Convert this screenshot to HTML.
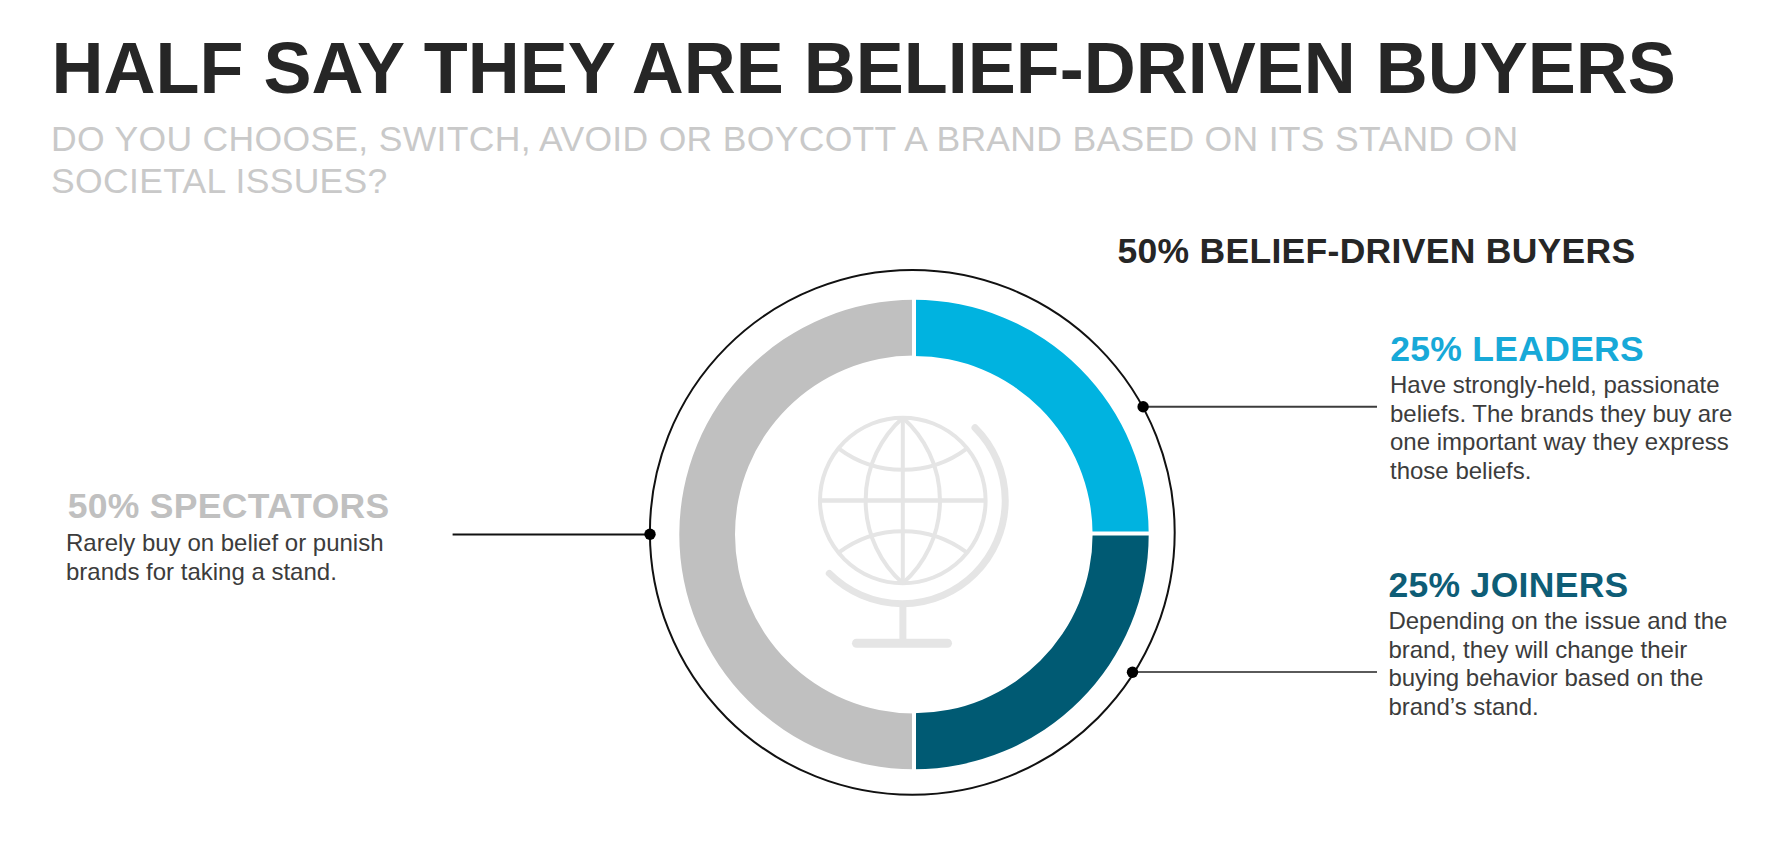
<!DOCTYPE html>
<html><head><meta charset="utf-8">
<style>
html,body{margin:0;padding:0;background:#fff;}
body{width:1781px;height:843px;position:relative;overflow:hidden;font-family:"Liberation Sans",sans-serif;}
.t{position:absolute;white-space:nowrap;margin:0;}
#title{left:51.6px;top:32px;font-size:72px;line-height:72px;font-weight:bold;color:#262626;}
#sub{left:51.1px;top:118px;font-size:35.5px;letter-spacing:0.32px;line-height:42px;color:#c9c9c9;}
.h{font-size:35.5px;letter-spacing:0.3px;line-height:36px;font-weight:bold;}
.b{font-size:24px;line-height:28.5px;color:#3c3c3c;}
#bdb{left:1117.4px;top:232.8px;color:#262626;}
#lh{left:1390.2px;top:331.2px;color:#17a9d8;}
#lb{left:1390px;top:371.1px;}
#jh{left:1388.5px;top:567.3px;color:#0e5d76;}
#jb{left:1388.4px;top:607.3px;}
#sh{left:67.7px;top:488px;color:#c0c0c0;}
#sb{left:66px;top:529.4px;}
svg{position:absolute;left:0;top:0;}
</style></head><body>
<svg width="1781" height="843" viewBox="0 0 1781 843">
  <!-- outer thin circle -->
  <circle cx="912.3" cy="532.4" r="262.4" fill="none" stroke="#111" stroke-width="2"/>
  <!-- donut segments -->
  <path d="M914 299.8 A234.7 234.7 0 0 0 914 769.2 L914 713.5 A179 179 0 0 1 914 355.5 Z" fill="#c0c0c0"/>
  <path d="M914 299.8 A234.7 234.7 0 0 1 1148.7 534.5 L1092.6 534.5 A178.6 178.6 0 0 0 914 355.9 Z" fill="#00b3e0"/>
  <path d="M1148.7 534.5 A234.7 234.7 0 0 1 914 769.2 L914 713.3 A178.8 178.8 0 0 0 1092.6 534.5 Z" fill="#005a73"/>
  <!-- gaps -->
  <line x1="914" y1="290" x2="914" y2="360" stroke="#fff" stroke-width="4"/>
  <line x1="914" y1="708" x2="914" y2="780" stroke="#fff" stroke-width="4"/>
  <line x1="1088" y1="533.6" x2="1155" y2="533.6" stroke="#fff" stroke-width="4"/>
  <!-- leader lines -->
  <line x1="452.6" y1="534.4" x2="650" y2="534.4" stroke="#111" stroke-width="2"/>
  <circle cx="650" cy="534.2" r="5.7" fill="#000"/>
  <line x1="1143" y1="406.8" x2="1377" y2="406.8" stroke="#3c3c3c" stroke-width="2"/>
  <circle cx="1143.1" cy="406.7" r="5.7" fill="#000"/>
  <line x1="1132.5" y1="672.1" x2="1377" y2="672.1" stroke="#5a5a5a" stroke-width="2"/>
  <circle cx="1132.5" cy="672.2" r="5.7" fill="#000"/>
  <!-- globe -->
  <g fill="none" stroke="#e5e5e5" stroke-width="4">
    <circle cx="902.8" cy="500.5" r="82.8"/>
    <path d="M902.8 417.7 A110.8 110.8 0 0 0 902.8 583.3 A110.8 110.8 0 0 0 902.8 417.7 Z" stroke-linejoin="bevel"/>
    <line x1="902.8" y1="418" x2="902.8" y2="583"/>
    <line x1="820" y1="500.5" x2="985.6" y2="500.5" stroke-width="4.6"/>
    <path d="M838.5 448.3 A106.9 106.9 0 0 0 967.1 448.3"/>
    <path d="M838.5 552.7 A106.9 106.9 0 0 1 967.1 552.7"/>
    <path d="M975.0 427.7 A103 103 0 1 1 829.3 573.4" stroke-width="7" stroke-linecap="round"/>
    <line x1="902.9" y1="604" x2="902.9" y2="642" stroke-width="7"/>
    <line x1="856.5" y1="643.3" x2="947.5" y2="643.3" stroke-width="9" stroke-linecap="round"/>
  </g>
</svg>
<div class="t" id="title">HALF SAY THEY ARE BELIEF-DRIVEN BUYERS</div>
<div class="t" id="sub">DO YOU CHOOSE, SWITCH, AVOID OR BOYCOTT A BRAND BASED ON ITS STAND ON<br>SOCIETAL ISSUES?</div>
<div class="t h" id="bdb">50% BELIEF-DRIVEN BUYERS</div>
<div class="t h" id="lh">25% LEADERS</div>
<div class="t b" id="lb">Have strongly-held, passionate<br>beliefs. The brands they buy are<br>one important way they express<br>those beliefs.</div>
<div class="t h" id="jh">25% JOINERS</div>
<div class="t b" id="jb">Depending on the issue and the<br>brand, they will change their<br>buying behavior based on the<br>brand&rsquo;s stand.</div>
<div class="t h" id="sh">50% SPECTATORS</div>
<div class="t b" id="sb">Rarely buy on belief or punish<br>brands for taking a stand.</div>
</body></html>
